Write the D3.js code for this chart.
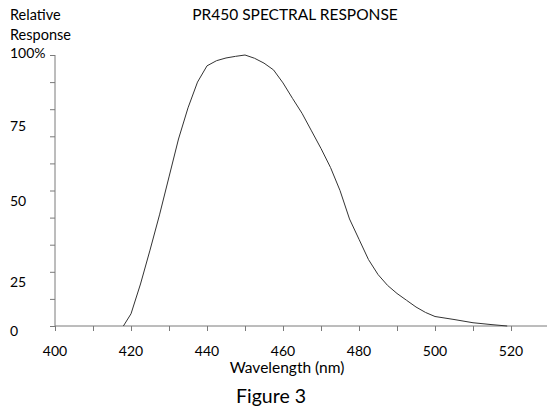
<!DOCTYPE html>
<html>
<head>
<meta charset="utf-8">
<script src="https://cdn.jsdelivr.net/npm/d3@7"></script>
<style>
	body { margin: 0; background: white; }
	svg { display: block; font-family: Lato, "Noto Sans", sans-serif; }
</style>
</head>
<body>
<div id="chart"></div>
<script>
(function () {
	"use strict";

	// spectral response
	var wavelengths = [418, 420, 422.5, 425, 427.5, 430, 432.5, 435, 437.5, 440, 442.5, 445, 447.5, 450,
		452.5, 455, 457.5, 460, 462.5, 465, 467.5, 470, 472.5, 475, 477.5, 480, 482.5, 485, 487.5,
		490, 492.5, 495, 497.5, 500, 505, 510, 515, 519];
	var responses = [0, 4.5, 15.5, 28, 41, 55, 69, 80.5, 90, 96, 97.9, 98.9, 99.5, 100,
		98.8, 97, 94.5, 89.7, 84, 78.5, 72, 65.5, 58.5, 50, 39.5, 32, 24.5, 19, 15,
		12, 9.5, 7, 5, 3.5, 2.4, 1.2, 0.5, 0];

	var xTickLabels = [400, 420, 440, 460, 480, 500, 520];
	var yTickLabels = ['100%', '75', '50', '25', '0'];
	// where the y labels sit in the original figure (in response units)
	var yTickLabelAt = [100.7, 73.8, 46.1, 16.2, -1.8];

	var WIDTH = 547;
	var HEIGHT = 411;

	var x = d3.scaleLinear().domain([400, 520]).range([55, 511]);
	var y = d3.scaleLinear().domain([0, 100]).range([326, 55]);

	var svg = d3.select('#chart').append('svg')
		.attr('width', WIDTH)
		.attr('height', HEIGHT);

	var axisColor = '#7a7a7a';

	// x axis
	var xAxis = svg.append('g')
		.attr('transform', 'translate(0,' + y(0) + ')')
		.call(d3.axisBottom(x).tickValues(d3.range(400, 521, 10)).tickSize(5).tickFormat(''));
	xAxis.select('.domain').remove();
	xAxis.selectAll('.tick line').attr('stroke', axisColor);
	xAxis.append('line')
		.attr('x1', x(400)).attr('x2', WIDTH)
		.attr('stroke', axisColor);

	// y axis
	var yAxis = svg.append('g')
		.attr('transform', 'translate(' + x(400) + ',0)')
		.call(d3.axisLeft(y).tickValues(d3.range(0, 101, 10)).tickSize(5).tickFormat(''));
	yAxis.select('.domain').remove();
	yAxis.selectAll('.tick line').attr('stroke', axisColor);
	yAxis.append('line')
		.attr('y1', y(100)).attr('y2', y(0))
		.attr('stroke', axisColor);

	svg.selectAll('.x-label')
		.data(xTickLabels)
		.enter()
		.append('text')
		.attr('x', function (d) { return x(d); })
		.attr('y', 356)
		.attr('text-anchor', 'middle')
		.attr('font-size', 14)
		.text(function (d) { return d; });

	svg.selectAll('.y-label')
		.data(yTickLabels)
		.enter()
		.append('text')
		.attr('x', 10)
		.attr('y', function (d, i) { return y(yTickLabelAt[i]) + 5; })
		.attr('font-size', 14)
		.text(function (d) { return d; });

	// curve
	var line = d3.line()
		.x(function (d) { return x(d[0]); })
		.y(function (d) { return y(d[1]); });

	svg.append('path')
		.datum(d3.zip(wavelengths, responses))
		.attr('d', line)
		.attr('fill', 'none')
		.attr('stroke', '#333')
		.attr('stroke-width', 1);

	// titles
	svg.append('text').attr('x', 10).attr('y', 20).attr('font-size', 14.5).text('Relative');
	svg.append('text').attr('x', 10).attr('y', 40).attr('font-size', 14.5).text('Response');
	svg.append('text').attr('x', 295).attr('y', 20).attr('font-size', 15.5)
		.attr('text-anchor', 'middle').text('PR450 SPECTRAL RESPONSE');
	svg.append('text').attr('x', 287).attr('y', 373).attr('font-size', 15.5)
		.attr('text-anchor', 'middle').text('Wavelength (nm)');
	svg.append('text').attr('x', 271).attr('y', 403).attr('font-size', 19.5)
		.attr('text-anchor', 'middle').text('Figure 3');
}());
</script>
</body>
</html>
